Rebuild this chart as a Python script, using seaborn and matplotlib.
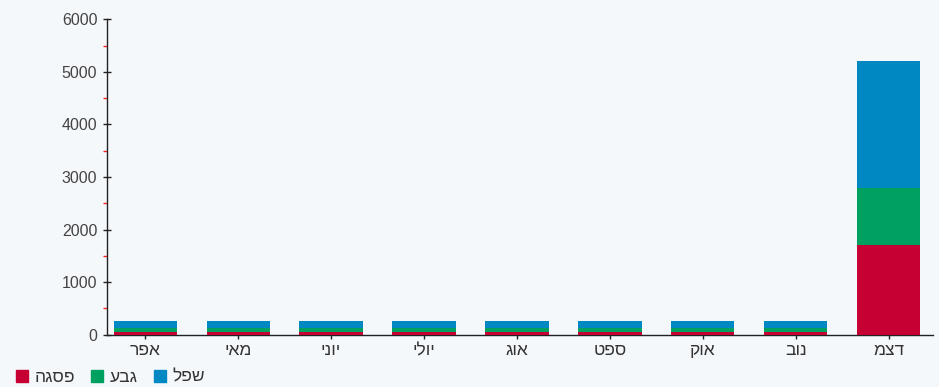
import matplotlib
matplotlib.use("Agg")
import matplotlib.pyplot as plt
import seaborn as sns
import pandas as pd
import numpy as np
from matplotlib.ticker import MultipleLocator

months = ["אפר", "מאי", "יוני", "יולי", "אוג", "ספט", "אוק", "נוב", "דצמ"]
series_names = ["פסגה", "גבע", "שפל"]
peak = [60, 60, 60, 60, 60, 60, 60, 60, 1700]
mid = [65, 65, 65, 65, 65, 65, 65, 65, 1100]
low = [140, 140, 140, 140, 140, 140, 140, 140, 2400]
colors = ["#c70033", "#00a060", "#0088c2"]

# the reference shows the Hebrew glyphs in left-to-right order
def visual(s):
    return s[::-1]

sns.set_theme(style="white")
plt.rcParams['font.family'] = ['Liberation Sans', 'DejaVu Sans']

fig = plt.figure(figsize=(9.39, 3.87), dpi=100)
fig.patch.set_facecolor("#f5f8fb")
ax = fig.add_axes([0.114, 0.135, 0.88, 0.815])
ax.set_facecolor("#f5f8fb")

df = pd.DataFrame({"month": [visual(m) for m in months],
                   "peak": peak, "mid": mid, "low": low})
bottom = np.zeros(len(months))
for name, col, c in zip(series_names, ["peak", "mid", "low"], colors):
    sns.barplot(x=df["month"], y=df[col] + bottom, ax=ax, color=c, width=0.68,
                saturation=1)
    bottom = bottom + df[col].values

# cumulative bars: draw the tallest first
for i, cont in enumerate(ax.containers):
    for p in cont.patches:
        p.set_zorder(5 - i)
        p.set_linewidth(0)

if ax.get_legend() is not None:
    ax.get_legend().remove()

ax.set_xlim(-0.41, 8.48)
ax.set_ylim(0, 6000)
ax.set_xlabel("")
ax.set_ylabel("")
ax.yaxis.set_major_locator(MultipleLocator(1000))
ax.yaxis.set_minor_locator(MultipleLocator(500))
ax.tick_params(axis="y", which="major", direction="inout", length=6, width=1,
               color="#222222", labelsize=11.5, labelcolor="#444444", pad=4, left=True)
ax.tick_params(axis="y", which="minor", direction="out", length=3, width=1,
               color="#ff2020", left=True)
ax.tick_params(axis="x", which="major", direction="out", length=3, width=1,
               color="#222222", labelsize=12.5, labelcolor="#333333", pad=3, bottom=True)
for s in ["top", "right"]:
    ax.spines[s].set_visible(False)
for s in ["left", "bottom"]:
    ax.spines[s].set_color("#222222")
    ax.spines[s].set_linewidth(1)

handles = [plt.Rectangle((0, 0), 1, 1, color=c) for c in colors]
fig.legend(handles, [visual(n) for n in series_names], loc="lower left",
           bbox_to_anchor=(0.0, -0.035), ncol=3, frameon=False, fontsize=12.5,
           handlelength=0.7, handleheight=0.7, handletextpad=0.4, columnspacing=0.9,
           labelcolor="#333333")

fig.savefig("out.png", dpi=100, facecolor=fig.get_facecolor())
